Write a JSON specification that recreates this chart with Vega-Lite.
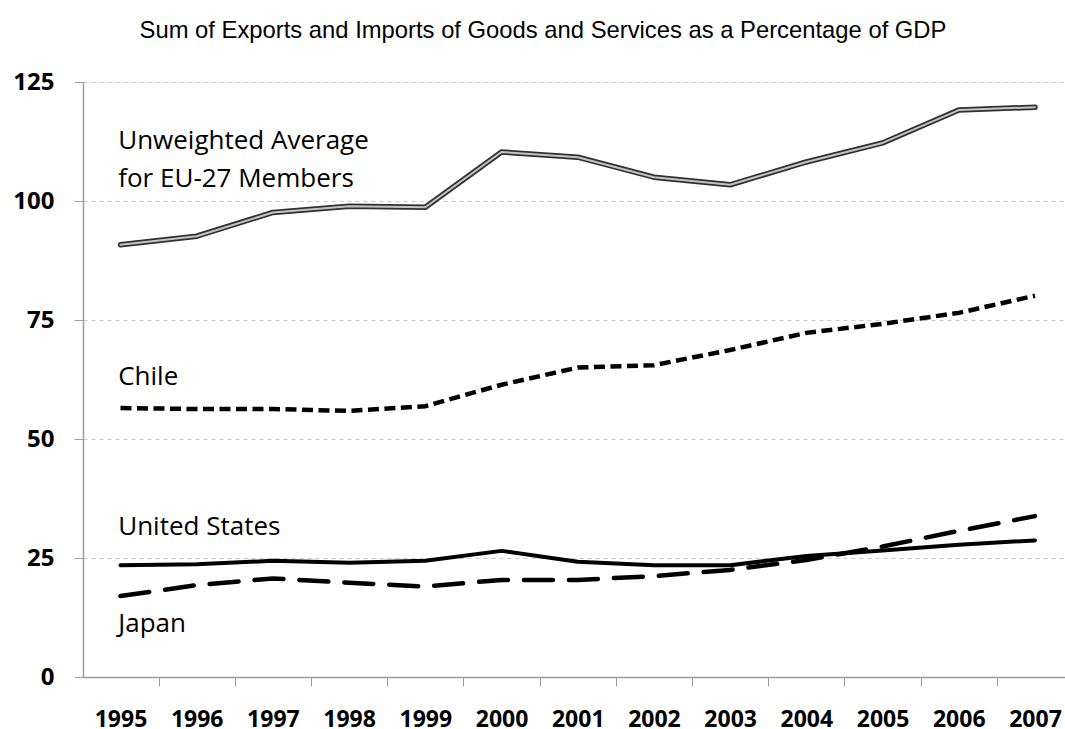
{
  "$schema": "https://vega.github.io/schema/vega-lite/v6.json",
  "autosize": {"type": "none"},
  "padding": {"left": 83, "top": 82, "right": 0, "bottom": 52},
  "width": 982,
  "height": 595,
  "background": "white",
  "title": {
    "text": "Sum of Exports and Imports of Goods and Services as a Percentage of GDP",
    "font": "Liberation Sans",
    "fontSize": 23.8,
    "fontWeight": "normal",
    "color": "#000000",
    "anchor": "middle",
    "dx": -31,
    "offset": 27
  },
  "config": {"view": {"stroke": null}},
  "datasets": {
    "series": [
      {"year": 1995, "series": "EU", "value": 90.8},
      {"year": 1996, "series": "EU", "value": 92.6},
      {"year": 1997, "series": "EU", "value": 97.6},
      {"year": 1998, "series": "EU", "value": 98.9},
      {"year": 1999, "series": "EU", "value": 98.7},
      {"year": 2000, "series": "EU", "value": 110.3},
      {"year": 2001, "series": "EU", "value": 109.2},
      {"year": 2002, "series": "EU", "value": 105.0},
      {"year": 2003, "series": "EU", "value": 103.4},
      {"year": 2004, "series": "EU", "value": 108.2},
      {"year": 2005, "series": "EU", "value": 112.2},
      {"year": 2006, "series": "EU", "value": 119.1},
      {"year": 2007, "series": "EU", "value": 119.7},
      {"year": 1995, "series": "Chile", "value": 56.5},
      {"year": 1996, "series": "Chile", "value": 56.3},
      {"year": 1997, "series": "Chile", "value": 56.3},
      {"year": 1998, "series": "Chile", "value": 55.9},
      {"year": 1999, "series": "Chile", "value": 56.9},
      {"year": 2000, "series": "Chile", "value": 61.4},
      {"year": 2001, "series": "Chile", "value": 65.0},
      {"year": 2002, "series": "Chile", "value": 65.5},
      {"year": 2003, "series": "Chile", "value": 68.7},
      {"year": 2004, "series": "Chile", "value": 72.3},
      {"year": 2005, "series": "Chile", "value": 74.2},
      {"year": 2006, "series": "Chile", "value": 76.5},
      {"year": 2007, "series": "Chile", "value": 80.1},
      {"year": 1995, "series": "US", "value": 23.5},
      {"year": 1996, "series": "US", "value": 23.7},
      {"year": 1997, "series": "US", "value": 24.4},
      {"year": 1998, "series": "US", "value": 24.0},
      {"year": 1999, "series": "US", "value": 24.4},
      {"year": 2000, "series": "US", "value": 26.5},
      {"year": 2001, "series": "US", "value": 24.2},
      {"year": 2002, "series": "US", "value": 23.5},
      {"year": 2003, "series": "US", "value": 23.5},
      {"year": 2004, "series": "US", "value": 25.4},
      {"year": 2005, "series": "US", "value": 26.6},
      {"year": 2006, "series": "US", "value": 27.8},
      {"year": 2007, "series": "US", "value": 28.7},
      {"year": 1995, "series": "Japan", "value": 17.0},
      {"year": 1996, "series": "Japan", "value": 19.3},
      {"year": 1997, "series": "Japan", "value": 20.7},
      {"year": 1998, "series": "Japan", "value": 19.8},
      {"year": 1999, "series": "Japan", "value": 19.0},
      {"year": 2000, "series": "Japan", "value": 20.4},
      {"year": 2001, "series": "Japan", "value": 20.4},
      {"year": 2002, "series": "Japan", "value": 21.2},
      {"year": 2003, "series": "Japan", "value": 22.5},
      {"year": 2004, "series": "Japan", "value": 24.6},
      {"year": 2005, "series": "Japan", "value": 27.4},
      {"year": 2006, "series": "Japan", "value": 30.7},
      {"year": 2007, "series": "Japan", "value": 33.8}
    ],
    "labels": [
      {"x": 1994.97, "y": 111.0, "label": "Unweighted Average"},
      {"x": 1994.97, "y": 103.0, "label": "for EU-27 Members"},
      {"x": 1994.97, "y": 61.3, "label": "Chile"},
      {"x": 1994.97, "y": 29.9, "label": "United States"},
      {"x": 1994.97, "y": 9.4, "label": "Japan"}
    ],
    "ticks": [
      {"t": 1994.5}, {"t": 1995.5}, {"t": 1996.5}, {"t": 1997.5}, {"t": 1998.5},
      {"t": 1999.5}, {"t": 2000.5}, {"t": 2001.5}, {"t": 2002.5}, {"t": 2003.5},
      {"t": 2004.5}, {"t": 2005.5}, {"t": 2006.5}
    ]
  },
  "resolve": {"axis": {"x": "independent"}},
  "layer": [
    {
      "data": {"name": "ticks"},
      "mark": {"type": "point", "opacity": 0},
      "encoding": {
        "x": {
          "field": "t", "type": "quantitative",
          "scale": {"domain": [1994.508, 2007.394], "nice": false, "zero": false},
          "axis": {
            "orient": "bottom",
            "values": [1994.5, 1995.5, 1996.5, 1997.5, 1998.5, 1999.5, 2000.5, 2001.5, 2002.5, 2003.5, 2004.5, 2005.5, 2006.5],
            "labels": false, "grid": false, "title": null,
            "domainColor": "#9e9e9e", "domainWidth": 1.5,
            "tickColor": "#9e9e9e", "tickSize": 9, "tickWidth": 1
          }
        },
        "y": {"value": 595}
      }
    },
    {
      "data": {"name": "series"},
      "transform": [{"filter": "datum.series === 'EU'"}],
      "mark": {"type": "line", "stroke": "#303030", "strokeWidth": 5.5, "strokeJoin": "round", "strokeCap": "round"},
      "encoding": {
        "x": {
          "field": "year", "type": "quantitative",
          "scale": {"domain": [1994.508, 2007.394], "nice": false, "zero": false},
          "axis": {
            "orient": "bottom",
            "values": [1995, 1996, 1997, 1998, 1999, 2000, 2001, 2002, 2003, 2004, 2005, 2006, 2007],
            "format": "d", "ticks": false, "tickSize": 0, "domain": false, "grid": false, "title": null,
            "labelFont": "Open Sans", "labelFontWeight": "bold", "labelFontSize": 23,
            "labelColor": "#000000", "labelPadding": 31, "labelFlush": false, "labelOverlap": false
          }
        },
        "y": {
          "field": "value", "type": "quantitative",
          "scale": {"domain": [0, 125], "nice": false},
          "axis": {
            "values": [0, 25, 50, 75, 100, 125],
            "title": null,
            "grid": true, "gridDash": [4, 4], "gridColor": "#c8c8c8", "gridWidth": 1,
            "domainColor": "#9e9e9e", "domainWidth": 1.5,
            "tickColor": "#9e9e9e", "tickSize": 9,
            "labelFont": "Open Sans", "labelFontWeight": "bold", "labelFontSize": 24,
            "labelColor": "#000000", "labelPadding": 20
          }
        }
      }
    },
    {
      "data": {"name": "series"},
      "transform": [{"filter": "datum.series === 'EU'"}],
      "mark": {"type": "line", "stroke": "#c4c4c4", "strokeWidth": 2, "strokeJoin": "round", "strokeCap": "round"},
      "encoding": {
        "x": {"field": "year", "type": "quantitative", "axis": null},
        "y": {"field": "value", "type": "quantitative"}
      }
    },
    {
      "data": {"name": "series"},
      "transform": [{"filter": "datum.series === 'Chile'"}],
      "mark": {"type": "line", "stroke": "#000000", "strokeWidth": 4.5, "strokeDash": [11, 5.5], "strokeCap": "butt"},
      "encoding": {
        "x": {"field": "year", "type": "quantitative", "axis": null},
        "y": {"field": "value", "type": "quantitative"}
      }
    },
    {
      "data": {"name": "series"},
      "transform": [{"filter": "datum.series === 'Japan'"}],
      "mark": {"type": "line", "stroke": "#000000", "strokeWidth": 4.5, "strokeDash": [29, 16], "strokeCap": "round"},
      "encoding": {
        "x": {"field": "year", "type": "quantitative", "axis": null},
        "y": {"field": "value", "type": "quantitative"}
      }
    },
    {
      "data": {"name": "series"},
      "transform": [{"filter": "datum.series === 'US'"}],
      "mark": {"type": "line", "stroke": "#000000", "strokeWidth": 4, "strokeJoin": "round", "strokeCap": "round"},
      "encoding": {
        "x": {"field": "year", "type": "quantitative", "axis": null},
        "y": {"field": "value", "type": "quantitative"}
      }
    },
    {
      "data": {"name": "labels"},
      "mark": {"type": "text", "align": "left", "baseline": "alphabetic", "font": "Open Sans", "fontSize": 26, "color": "#000000"},
      "encoding": {
        "x": {"field": "x", "type": "quantitative", "axis": null},
        "y": {"field": "y", "type": "quantitative"},
        "text": {"field": "label"}
      }
    }
  ]
}
